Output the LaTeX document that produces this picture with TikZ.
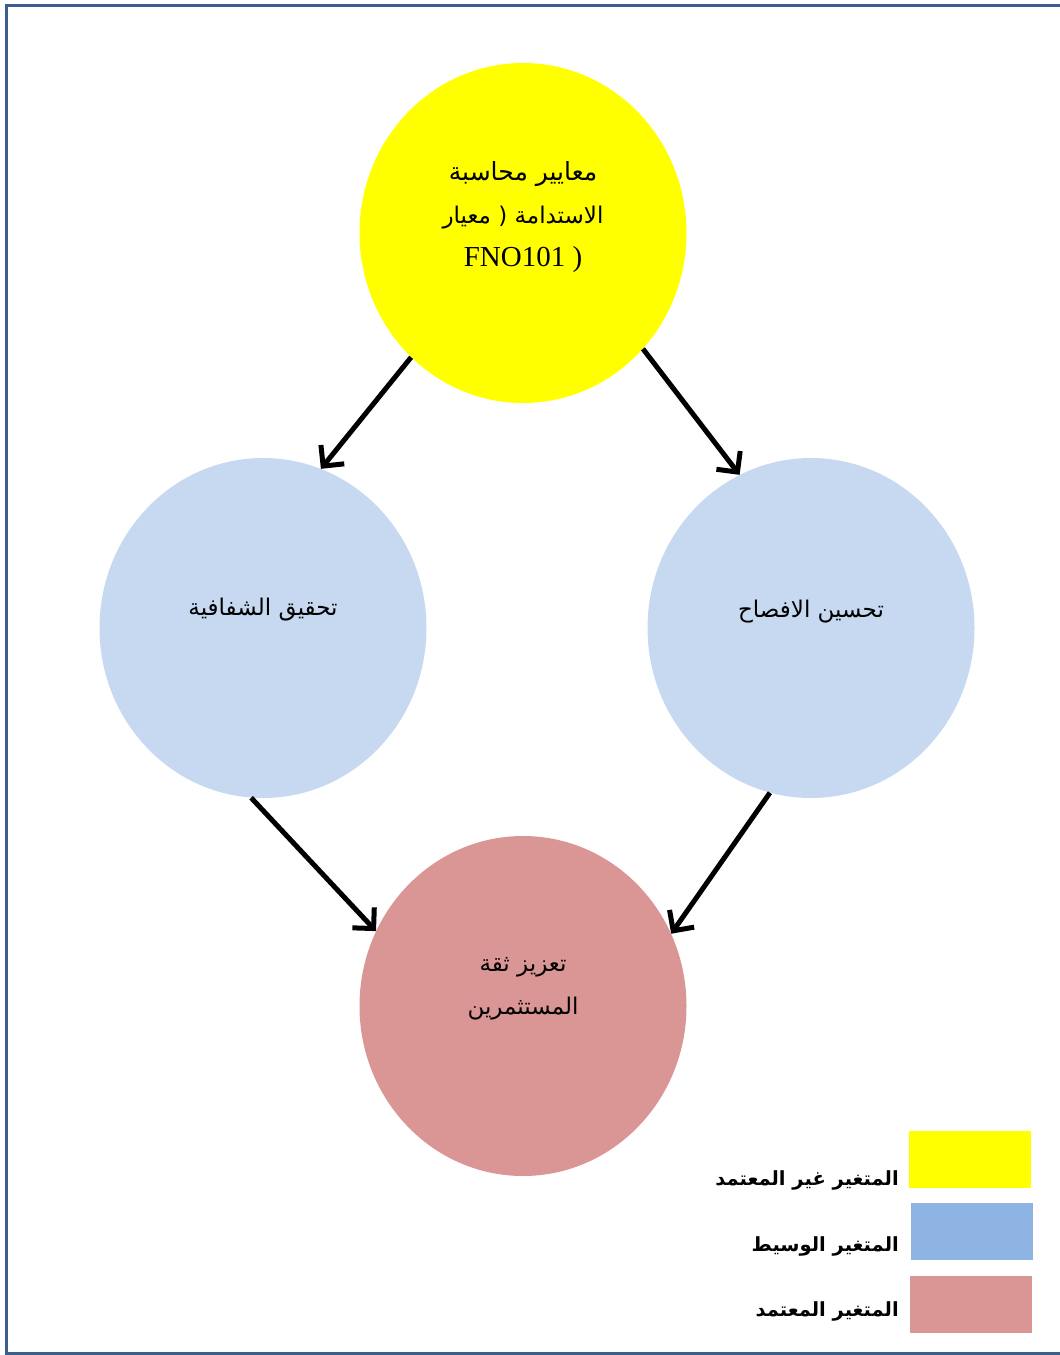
\documentclass[tikz,border=0pt]{standalone}
\usepackage{fontspec}
\setmainfont{Liberation Serif}
\newfontfamily\arabicfont[Script=Arabic]{DejaVu Sans}
\TeXXeTstate=1
\usetikzlibrary{arrows.meta,shapes.geometric}
\definecolor{frameBlue}{HTML}{3A5F8E}
\definecolor{indYellow}{HTML}{FFFF00}
\definecolor{medBlue}{HTML}{C6D9F1}
\definecolor{medKey}{HTML}{8EB4E3}
\definecolor{depRose}{HTML}{D99694}

\begin{document}
\begin{tikzpicture}[x=1pt, y=-1pt,
  blob/.style={ellipse, minimum width=327pt, minimum height=340pt, inner sep=0pt},
  txt/.style={align=center, font=\fontsize{23}{43}\arabicfont},
  key/.style={minimum width=122pt, minimum height=57pt, inner sep=0pt},
  keytxt/.style={anchor=east, inner sep=0pt, font=\fontsize{19.5}{22}\arabicfont\bfseries},
  arr/.style={-{Straight Barb[length=15pt, width=30pt]}, line width=5pt}]
\useasboundingbox (0,0) rectangle (1060,1355);
\draw[frameBlue, line width=3pt] (6,5.5) rectangle (1063,1353);
% circles
\node[blob, fill=indYellow] (src) at (523,233) {};
\node[blob, fill=medBlue] (lft) at (263,628) {};
\node[blob, fill=medBlue] (rgt) at (811,628) {};
\node[blob, fill=depRose] (dep) at (523,1006) {};
\node[txt, yshift=16pt] (srcTxt) at (src) {\fontsize{25}{43}\selectfont\beginR معايير محاسبة\endR\\ \beginR الاستدامة ( معيار\endR\\ {\rmfamily\fontsize{29}{43}\selectfont FNO101 )}};
\node[txt, yshift=18pt] (lftTxt) at (lft) {\beginR تحقيق الشفافية\endR};
\node[txt, yshift=16pt] (rgtTxt) at (rgt) {\beginR تحسين الافصاح\endR};
\node[txt, yshift=17pt] (depTxt) at (dep) {\beginR تعزيز ثقة\endR\\ \beginR المستثمرين\endR};
\draw[arr] (src.228) -- (lft.70);
\draw[arr] (src.316) -- (rgt.115);
\draw[arr] (lft.266) -- (dep.153);
\draw[arr] (rgt.256) -- (dep.26);
% legend
\node[key, fill=indYellow] (kInd) at (970,1159.5) {};
\node[key, fill=medKey] (kMed) at (972,1231.5) {};
\node[key, fill=depRose] (kDep) at (971,1304.5) {};
\node[keytxt] (tInd) at (899,1180) {\beginR المتغير غير المعتمد\endR};
\node[keytxt] (tMed) at (899,1246) {\beginR المتغير الوسيط\endR};
\node[keytxt] (tDep) at (899,1311) {\beginR المتغير المعتمد\endR};
\end{tikzpicture}
\end{document}
